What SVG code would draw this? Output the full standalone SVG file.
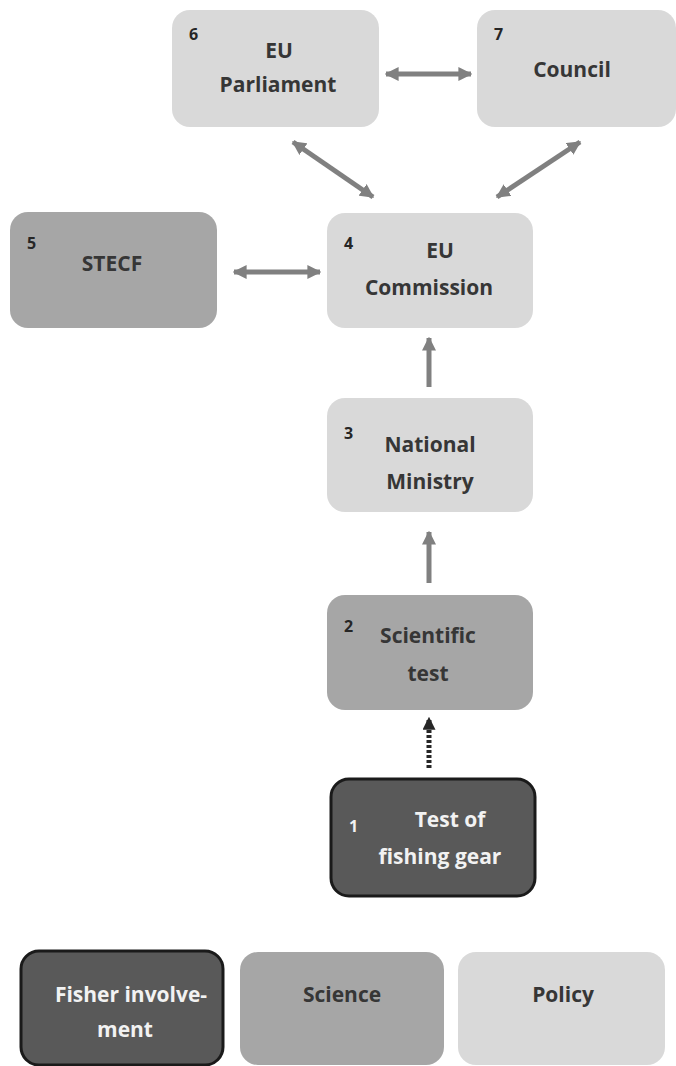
<svg xmlns="http://www.w3.org/2000/svg" width="676" height="1066" viewBox="0 0 676 1066">
<defs>
<style>
.policy{fill:#d9d9d9}
.science{fill:#a6a6a6}
.fisher{fill:#595959;stroke:#1a1a1a;stroke-width:3}
text{font-family:"Open Sans","Noto Sans",sans-serif;font-weight:700}
.lbl{font-size:21px;fill:#363636;text-anchor:middle}
.num{font-size:16px;fill:#262626}
.wl{font-size:21px;fill:#f2f2f2;text-anchor:middle}
.wn{font-size:16px;fill:#f2f2f2}
.conn{stroke:#808080;stroke-width:5;fill:none}
.dash{stroke:#262626;stroke-width:5;fill:none;stroke-dasharray:3 2}
</style>
<marker id="ah" viewBox="0 0 10 10" refX="9" refY="5" markerWidth="14" markerHeight="14" markerUnits="userSpaceOnUse" orient="auto-start-reverse">
<path d="M0,0 L10,5 L0,10 z" fill="#808080"/>
</marker>
<marker id="ahd" viewBox="0 0 10 10" refX="9" refY="5" markerWidth="13" markerHeight="13" markerUnits="userSpaceOnUse" orient="auto">
<path d="M0,0 L10,5 L0,10 z" fill="#262626"/>
</marker>
</defs>
<rect width="676" height="1066" fill="#ffffff"/>
<g id="connectors">
<line class="conn" x1="386" y1="74" x2="471" y2="74" marker-start="url(#ah)" marker-end="url(#ah)"/>
<line class="conn" x1="293" y1="142" x2="373" y2="197" marker-start="url(#ah)" marker-end="url(#ah)"/>
<line class="conn" x1="580" y1="142" x2="497" y2="197" marker-start="url(#ah)" marker-end="url(#ah)"/>
<line class="conn" x1="234" y1="272" x2="320" y2="272" marker-start="url(#ah)" marker-end="url(#ah)"/>
<line class="conn" x1="429" y1="387" x2="429" y2="338" marker-end="url(#ah)"/>
<line class="conn" x1="429" y1="583" x2="429" y2="532" marker-end="url(#ah)"/>
<line class="dash" x1="429" y1="768" x2="429" y2="718" marker-end="url(#ahd)"/>
</g>
<g id="node6">
<rect class="policy" x="172" y="10" width="207" height="117" rx="18"/>
<text class="num" x="189" y="40">6</text>
<text class="lbl" x="279" y="58">EU</text>
<text class="lbl" x="278" y="92">Parliament</text>
</g>
<g id="node7">
<rect class="policy" x="477" y="10" width="199" height="117" rx="18"/>
<text class="num" x="494" y="40">7</text>
<text class="lbl" x="572" y="77">Council</text>
</g>
<g id="node5">
<rect class="science" x="10" y="212" width="207" height="116" rx="18"/>
<text class="num" x="27" y="249">5</text>
<text class="lbl" x="112" y="271">STECF</text>
</g>
<g id="node4">
<rect class="policy" x="327" y="213" width="206" height="115" rx="18"/>
<text class="num" x="344" y="249">4</text>
<text class="lbl" x="440" y="258">EU</text>
<text class="lbl" x="429" y="295">Commission</text>
</g>
<g id="node3">
<rect class="policy" x="327" y="398" width="206" height="114" rx="18"/>
<text class="num" x="344" y="439">3</text>
<text class="lbl" x="430" y="452">National</text>
<text class="lbl" x="430" y="489">Ministry</text>
</g>
<g id="node2">
<rect class="science" x="327" y="595" width="206" height="115" rx="18"/>
<text class="num" x="344" y="632">2</text>
<text class="lbl" x="428" y="643">Scientific</text>
<text class="lbl" x="428" y="681">test</text>
</g>
<g id="node1">
<rect class="fisher" x="331" y="779" width="204" height="117" rx="18"/>
<text class="wn" x="349" y="832">1</text>
<text class="wl" x="450" y="827">Test of</text>
<text class="wl" x="440" y="864">fishing gear</text>
</g>
<g id="legend-fisher">
<rect class="fisher" x="21" y="951" width="202" height="114" rx="18"/>
<text class="wl" x="131" y="1002">Fisher involve-</text>
<text class="wl" x="125" y="1037">ment</text>
</g>
<g id="legend-science">
<rect class="science" x="240" y="952" width="204" height="113" rx="18"/>
<text class="lbl" x="342" y="1002">Science</text>
</g>
<g id="legend-policy">
<rect class="policy" x="458" y="952" width="207" height="113" rx="18"/>
<text class="lbl" x="563" y="1002">Policy</text>
</g>
</svg>
